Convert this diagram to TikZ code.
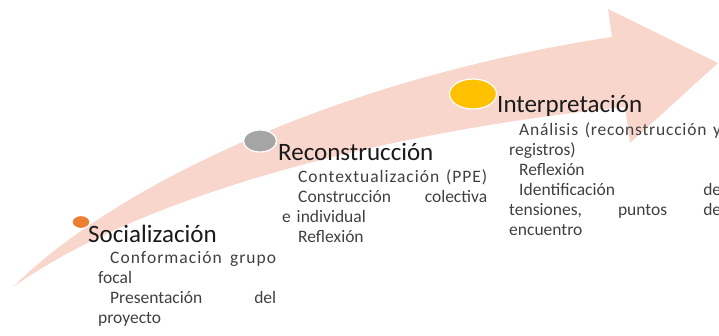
\documentclass[tikz,border=0pt]{standalone}
\usepackage{fontspec}
\setmainfont{Carlito}
\usetikzlibrary{shapes.geometric}
\definecolor{arrowpink}{RGB}{248,214,204}
\definecolor{dotorange}{RGB}{237,125,49}
\definecolor{dotgray}{RGB}{165,165,165}
\definecolor{dotyellow}{RGB}{255,192,0}
\definecolor{titlecol}{RGB}{26,26,26}
\definecolor{bodycol}{RGB}{64,64,64}
\begin{document}
\begin{tikzpicture}[x=1pt,y=-1pt,
  title/.style={font=\fontsize{25}{30}\selectfont, text=titlecol, inner sep=0, anchor=base west},
  body/.style={font=\fontsize{17.5}{20}\selectfont, text=bodycol, inner sep=0, anchor=base west, align=left},
  dot/.style={ellipse, draw=white, line width=1.2pt, inner sep=0}]
\useasboundingbox (0,0) rectangle (719,335);
\clip (0,0) rectangle (719,335);
% curved arrow
\fill[arrowpink] (13,287) .. controls (110,190) and (330,80) .. (612,37)
  -- (608,9) -- (718,63) -- (630,143) -- (625,107)
  .. controls (400,130) and (150,190) .. (13,287) -- cycle;
% dots
\node[dot, fill=dotorange, minimum width=18pt, minimum height=13pt] (d1) at (81,222) {};
\node[dot, fill=dotgray, minimum width=33pt, minimum height=22pt] (d2) at (260,141) {};
\node[dot, fill=dotyellow, minimum width=47pt, minimum height=30pt] (d3) at (473,94) {};
% titles
\node[title] (t1) at (88,242) {Socialización};
\node[title] (t2) at (278,160) {Reconstrucción};
\node[title] (t3) at (497,112) {Interpretación};
% bodies
\node[body, text width=178pt] (b1) at (98,263)
  {\hspace*{12pt}{\addfontfeature{LetterSpace=6}Conformación\hfill grupo}\\focal\\\hspace*{12pt}Presentación\hfill del\\proyecto};
\node[body, text width=205pt] (b2) at (282,182)
  {\hspace*{16pt}{\addfontfeature{LetterSpace=5.5}Contextualización\hfill(PPE)}\\\hspace*{16pt}Construcción\hfill colectiva\\e individual\\\hspace*{16pt}Reflexión};
\node[body, text width=212pt] (b3) at (509,135)
  {\hspace*{10pt}{\addfontfeature{LetterSpace=4.5}Análisis\hfill(reconstrucción\hfill y}\\registros)\\\hspace*{10pt}Reflexión\\\hspace*{10pt}Identificación\hfill de\\tensiones,\hfill puntos\hfill de\\encuentro};
\end{tikzpicture}
\end{document}
